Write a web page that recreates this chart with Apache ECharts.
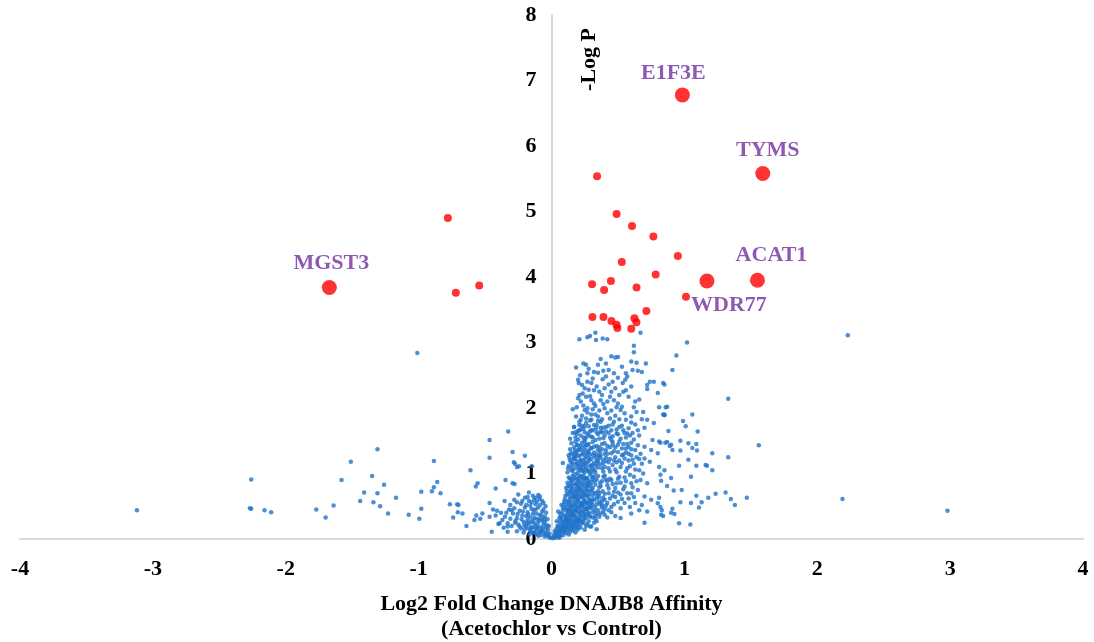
<!DOCTYPE html>
<html><head><meta charset="utf-8">
<script src="https://cdn.jsdelivr.net/npm/echarts@6/dist/echarts.min.js"></script>
<style>html,body{margin:0;padding:0;background:#fff}#c{width:1094px;height:642px}</style>
</head><body><div id="c"></div>
<script>
// ---------- DATA ----------
const xTicks = [-4,-3,-2,-1,0,1,2,3,4];
const yTicks = [0,1,2,3,4,5,6,7,8];
const xTitle = 'Log2 Fold Change DNAJB8 Affinity\n(Acetochlor vs Control)';
const yTitle = '-Log P';

const labeledNames = ['E1F3E','TYMS','ACAT1','WDR77','MGST3'];
const labeledX = [0.985, 1.59, 1.55, 1.17, -1.672];
const labeledY = [6.78, 5.58, 3.95, 3.94, 3.84];

const sigRed = [
[0.343,5.54],[0.49,4.96],[0.606,4.78],[0.767,4.62],[0.951,4.32],[0.529,4.23],[0.784,4.04],
[0.305,3.89],[0.447,3.94],[0.396,3.80],[0.64,3.84],[1.012,3.70],[0.714,3.48],
[0.308,3.39],[0.391,3.39],[0.451,3.33],[0.489,3.27],[0.496,3.22],[0.60,3.21],[0.624,3.37],[0.639,3.31],
[-0.78,4.90],[-0.72,3.76],[-0.544,3.87]
];

const blueScatter = [
[-3.12,0.44],[-2.26,0.91],[-2.27,0.47],[-2.26,0.46],[-2.16,0.44],[-2.11,0.41],[-1.77,0.45],[-1.70,0.33],[-1.64,0.51],[-1.58,0.90],[-1.51,1.18],[-1.44,0.58],[-1.41,0.71],[-1.35,0.96],[-1.31,1.37],[-1.31,0.70],[-1.34,0.56],[-1.29,0.50],[-1.26,0.83],[-1.23,0.39],[-1.17,0.63],
[-1.01,2.84],[-1.075,0.37],[-0.995,0.31],[-0.98,0.46],[-0.98,0.72],[-0.885,1.19],[-0.86,0.87],[-0.885,0.79],[-0.90,0.73],[-0.835,0.70],[-0.765,0.53],[-0.71,0.53],[-0.70,0.52],[-0.705,0.41],[-0.74,0.33],[-0.67,0.39],[-0.64,0.20],[-0.61,1.05],[-0.57,0.80],[-0.556,0.85],[-0.566,0.36],[-0.58,0.29],[-0.536,0.31],[-0.52,0.39],[-0.466,1.51],[-0.466,1.24],[-0.466,0.55],[-0.466,0.34],[-0.45,0.11],[-0.42,0.77],[-0.41,0.43],[-0.39,0.24],[-0.353,0.58],[-0.346,0.90],[-0.326,1.64],[-0.293,1.33],[-0.283,1.17],[-0.275,1.15],[-0.26,1.10],[-0.245,1.11],[-0.20,1.27],[-0.148,1.11],[-0.293,0.85],[-0.278,0.84],[-0.17,0.71],[-0.12,0.63],[-0.088,0.65],[-0.33,0.19],[-0.33,0.11],
[1.02,3.00],[0.94,2.80],[0.91,2.58],[0.85,2.36],[1.33,2.14],[0.86,2.01],[0.87,2.02],[0.84,1.90],[0.85,1.90],[1.06,1.90],[0.99,1.80],[1.01,1.72],[0.88,1.65],[1.10,1.64],[0.97,1.50],[0.82,1.47],[0.857,1.47],[0.87,1.48],[0.89,1.42],[1.03,1.46],[1.09,1.45],[1.06,1.39],[0.91,1.36],[0.97,1.35],[1.095,1.35],[1.56,1.43],[1.21,1.31],[1.33,1.25],[1.03,1.21],[0.96,1.12],[1.09,1.12],[1.16,1.13],[1.17,1.12],[1.21,1.05],[1.05,0.95],[0.90,0.93],[0.82,0.98],[0.825,0.89],[0.87,0.81],[0.92,0.74],[0.98,0.75],[1.09,0.66],[1.235,0.69],[1.31,0.71],[1.18,0.63],[1.35,0.61],[1.47,0.63],[1.38,0.52],[0.97,0.56],[1.05,0.55],[1.13,0.56],[1.11,0.48],[0.82,0.49],[0.83,0.44],[0.84,0.35],[0.91,0.46],[0.90,0.40],[0.925,0.38],[0.96,0.24],[1.045,0.22],[0.81,0.63],
[2.23,3.11],[2.19,0.61],[2.98,0.43]
];

const blueUpper = [
[0.21,3.05],[0.27,3.08],[0.29,3.10],[0.33,3.15],[0.335,3.04],[0.385,3.06],[0.42,3.05],[0.67,3.15],[0.62,2.95],[0.62,2.85],[0.185,2.62],[0.24,2.68],[0.26,2.66],[0.37,2.75],[0.45,2.79],[0.48,2.77],[0.50,2.78],[0.41,2.68],[0.35,2.66],[0.43,2.58],[0.47,2.53],[0.53,2.63],[0.60,2.71],[0.64,2.69],[0.61,2.58],[0.65,2.57],[0.68,2.55],[0.71,2.68],[0.56,2.53],[0.215,2.50],[0.27,2.53],[0.32,2.55],[0.35,2.54],[0.20,2.43],[0.205,2.38],[0.27,2.40],[0.30,2.38],[0.385,2.44],[0.41,2.48],[0.46,2.40],[0.57,2.48],[0.555,2.43],[0.536,2.38],[0.74,2.40],[0.77,2.40],[0.72,2.35],[0.84,2.38],[0.80,2.23],[0.72,2.29],[0.25,2.30],[0.235,2.22],[0.26,2.17],[0.32,2.27],[0.36,2.25],[0.40,2.30],[0.45,2.25],[0.48,2.30],[0.54,2.25],[0.56,2.27],[0.20,2.15],[0.22,2.10],[0.30,2.12],[0.32,2.07],[0.37,2.12],[0.42,2.10],[0.47,2.12],[0.50,2.07],[0.66,2.13],[0.16,1.98],[0.19,2.01],[0.25,1.97],[0.27,1.995],[0.31,1.98],[0.36,1.96],[0.40,1.995],[0.45,1.96],[0.49,2.01],[0.52,1.97],[0.62,2.01],[0.64,1.94],[0.81,2.01],[0.85,1.89],[0.69,1.94],[0.185,1.87],[0.22,1.82],[0.26,1.84],[0.30,1.82],[0.35,1.87],[0.37,1.79],[0.44,1.84],[0.47,1.79],[0.56,1.82],[0.60,1.78],[0.72,1.82],[0.77,1.77],[0.17,1.71],[0.21,1.66],[0.25,1.72],[0.30,1.66],[0.335,1.69],[0.37,1.64],[0.41,1.71],[0.45,1.66],[0.49,1.61],[0.54,1.66],[0.57,1.61],[0.65,1.66],
[0.76,1.51],[0.81,1.49],[0.90,1.44],[0.70,1.41],[0.75,1.36],[0.80,1.31],[0.70,1.23],[0.74,1.18],[0.81,1.10],[0.85,1.05],[0.62,0.95],[0.67,0.90],[0.60,0.70],[0.65,0.75],[0.70,0.65],[0.75,0.60],[0.80,0.545],[0.59,0.49],[0.66,0.44],[0.72,0.42],[0.52,0.32],[0.60,0.39],[0.70,0.25],[0.825,0.37],[0.48,0.35],[0.34,0.15],[0.29,0.19],[0.085,1.16],
[0.58,1.2],[0.62,1.15],[0.66,1.05],[0.6,0.85],[0.64,1.25],[0.69,1.0],[0.72,0.85],[0.55,0.8],[0.58,0.62],[0.63,0.55],[0.68,0.52],[0.56,1.32],[0.6,1.28],[0.66,1.22],[0.52,0.68],[0.5,0.92],[0.48,1.25],[0.54,1.45]
];

const blueDense = [
[0.01,0.01],[0.02,0.03],[0.03,0.02],[0.04,0.05],[0.05,0.03],[0.06,0.08],[0.07,0.05],[0.08,0.1],[0.03,0.07],[0.05,0.12],[0.09,0.06],[0.1,0.12],[0.11,0.09],[0.12,0.14],[0.07,0.13],[0.02,0.06],[0.04,0.1],[0.14,0.11],[0.13,0.07],[0.06,0.02],
[0.05,0.18],[0.07,0.22],[0.08,0.17],[0.09,0.26],[0.1,0.2],[0.11,0.28],[0.12,0.18],[0.13,0.24],[0.14,0.29],[0.15,0.16],[0.16,0.22],[0.17,0.27],[0.18,0.19],[0.19,0.25],[0.2,0.21],[0.21,0.29],[0.22,0.17],[0.24,0.24],[0.26,0.2],[0.28,0.27],[0.06,0.26],[0.1,0.16],[0.13,0.3],[0.15,0.21],[0.17,0.16],[0.2,0.28],[0.23,0.26],[0.3,0.19],[0.32,0.25],[0.11,0.23],
[0.07,0.33],[0.08,0.41],[0.09,0.36],[0.1,0.47],[0.11,0.32],[0.12,0.39],[0.13,0.45],[0.14,0.34],[0.15,0.42],[0.16,0.48],[0.17,0.37],[0.18,0.44],[0.19,0.31],[0.2,0.4],[0.21,0.47],[0.22,0.35],[0.23,0.43],[0.24,0.49],[0.25,0.38],[0.26,0.32],[0.27,0.45],[0.28,0.4],[0.29,0.34],[0.3,0.47],[0.31,0.41],[0.33,0.36],[0.35,0.44],[0.37,0.39],[0.4,0.46],[0.42,0.33],[0.12,0.31],[0.14,0.46],[0.16,0.4],[0.18,0.35],[0.2,0.49],[0.22,0.42],[0.24,0.33],[0.26,0.46],[0.15,0.36],[0.19,0.43],[0.11,0.44],[0.28,0.48],[0.33,0.31],[0.45,0.41],[0.38,0.48],
[0.09,0.52],[0.1,0.61],[0.11,0.56],[0.12,0.68],[0.13,0.53],[0.14,0.63],[0.15,0.72],[0.16,0.57],[0.17,0.66],[0.18,0.51],[0.19,0.74],[0.2,0.6],[0.21,0.69],[0.22,0.55],[0.23,0.64],[0.24,0.71],[0.25,0.58],[0.26,0.67],[0.27,0.52],[0.28,0.62],[0.29,0.73],[0.3,0.56],[0.31,0.66],[0.32,0.6],[0.33,0.7],[0.34,0.54],[0.36,0.64],[0.38,0.58],[0.4,0.69],[0.42,0.55],[0.44,0.62],[0.47,0.72],[0.5,0.57],[0.13,0.59],[0.15,0.51],[0.17,0.61],[0.19,0.56],[0.21,0.63],[0.23,0.51],[0.25,0.68],[0.27,0.74],[0.29,0.59],[0.16,0.69],[0.2,0.73],[0.24,0.53],[0.35,0.73],[0.14,0.74],[0.18,0.64],[0.26,0.56],[0.31,0.52],
[0.11,0.78],[0.12,0.86],[0.13,0.94],[0.14,0.8],[0.15,0.89],[0.16,0.97],[0.17,0.77],[0.18,0.84],[0.19,0.92],[0.2,0.79],[0.21,0.88],[0.22,0.96],[0.23,0.82],[0.24,0.9],[0.25,0.76],[0.26,0.85],[0.27,0.93],[0.28,0.81],[0.29,0.99],[0.3,0.87],[0.31,0.78],[0.32,0.95],[0.33,0.83],[0.34,0.91],[0.36,0.79],[0.38,0.88],[0.4,0.97],[0.42,0.82],[0.45,0.9],[0.48,0.78],[0.52,0.86],[0.14,0.92],[0.16,0.83],[0.18,0.99],[0.2,0.9],[0.22,0.77],[0.24,0.97],[0.26,0.92],[0.28,0.89],[0.3,0.76],[0.35,0.96],[0.15,0.77],[0.19,0.85],[0.23,0.93],[0.27,0.8],[0.55,0.94],
[0.12,1.02],[0.13,1.12],[0.14,1.2],[0.15,1.05],[0.16,1.15],[0.17,1.24],[0.18,1.08],[0.19,1.18],[0.2,1.01],[0.21,1.1],[0.22,1.21],[0.23,1.04],[0.24,1.14],[0.25,1.23],[0.26,1.07],[0.27,1.17],[0.28,1.03],[0.29,1.12],[0.3,1.22],[0.31,1.06],[0.32,1.16],[0.33,1.01],[0.34,1.2],[0.35,1.09],[0.37,1.14],[0.39,1.03],[0.41,1.19],[0.43,1.08],[0.46,1.13],[0.49,1.02],[0.53,1.16],[0.16,1.04],[0.18,1.22],[0.2,1.13],[0.22,1.06],[0.24,1.19],[0.26,1.11],[0.28,1.24],[0.3,1.09],[0.36,1.24],[0.15,1.17],[0.25,1.02],[0.4,1.1],[0.57,1.08],
[0.13,1.28],[0.14,1.37],[0.15,1.46],[0.16,1.3],[0.17,1.4],[0.18,1.49],[0.19,1.33],[0.2,1.43],[0.21,1.27],[0.22,1.36],[0.23,1.47],[0.24,1.31],[0.25,1.41],[0.26,1.26],[0.27,1.35],[0.28,1.45],[0.29,1.29],[0.3,1.39],[0.31,1.48],[0.32,1.32],[0.34,1.42],[0.36,1.27],[0.38,1.37],[0.4,1.46],[0.42,1.3],[0.44,1.4],[0.47,1.34],[0.5,1.44],[0.53,1.28],[0.56,1.38],[0.6,1.47],[0.17,1.26],[0.19,1.44],[0.21,1.38],[0.23,1.29],[0.25,1.49],[0.27,1.43],[0.33,1.25],[0.35,1.36],[0.46,1.48],[0.58,1.3],[0.63,1.36],
[0.14,1.53],[0.16,1.62],[0.17,1.71],[0.18,1.55],[0.2,1.65],[0.21,1.74],[0.22,1.58],[0.24,1.68],[0.25,1.52],[0.27,1.61],[0.28,1.72],[0.3,1.56],[0.31,1.66],[0.33,1.51],[0.35,1.6],[0.37,1.7],[0.39,1.54],[0.41,1.64],[0.43,1.73],[0.46,1.57],[0.49,1.67],[0.52,1.53],[0.55,1.62],[0.59,1.58],[0.62,1.52],[0.19,1.6],[0.23,1.73],[0.26,1.55],[0.29,1.64],[0.34,1.74],[0.38,1.63],[0.44,1.55],[0.51,1.71],
[-0.02,0.03],[-0.03,0.06],[-0.05,0.04],[-0.06,0.09],[-0.08,0.06],[-0.09,0.12],[-0.11,0.08],[-0.12,0.14],[-0.04,0.11],[-0.07,0.13],[-0.14,0.1],[-0.16,0.13],[-0.01,0.02],[-0.1,0.05],
[-0.04,0.17],[-0.06,0.22],[-0.08,0.18],[-0.1,0.25],[-0.12,0.2],[-0.14,0.28],[-0.15,0.17],[-0.17,0.23],[-0.19,0.19],[-0.21,0.26],[-0.23,0.16],[-0.25,0.22],[-0.27,0.28],[-0.3,0.2],[-0.33,0.24],[-0.07,0.28],[-0.11,0.16],[-0.13,0.24],[-0.18,0.29],[-0.2,0.15],[-0.24,0.19],[-0.36,0.17],[-0.05,0.26],
[-0.05,0.34],[-0.07,0.42],[-0.09,0.37],[-0.11,0.31],[-0.12,0.45],[-0.14,0.38],[-0.16,0.33],[-0.18,0.41],[-0.2,0.48],[-0.22,0.36],[-0.24,0.43],[-0.26,0.32],[-0.29,0.39],[-0.32,0.45],[-0.35,0.34],[-0.38,0.4],[-0.1,0.48],[-0.15,0.46],[-0.13,0.32],[-0.19,0.35],[-0.28,0.47],[-0.42,0.36],[-0.08,0.31],
[-0.06,0.55],[-0.09,0.61],[-0.12,0.53],[-0.14,0.66],[-0.17,0.58],[-0.2,0.63],[-0.23,0.54],[-0.25,0.68],[-0.28,0.6],[-0.31,0.52],[-0.15,0.56],[-0.1,0.67],[-0.19,0.52]
];

const blueCore = [
[0.035,0.15],[0.055,0.09],[0.075,0.18],[0.095,0.14],[0.115,0.19],[0.135,0.16],[0.155,0.26],[0.175,0.21],[0.195,0.14],[0.085,0.23],[0.105,0.29],[0.125,0.25],[0.165,0.3],[0.185,0.27],[0.215,0.23],[0.245,0.29],[0.065,0.14],[0.045,0.2],[0.025,0.12],[0.145,0.2],
[0.065,0.38],[0.085,0.46],[0.105,0.35],[0.125,0.42],[0.145,0.5],[0.165,0.35],[0.185,0.47],[0.205,0.33],[0.225,0.51],[0.245,0.4],[0.265,0.55],[0.285,0.36],[0.305,0.59],[0.325,0.43],[0.075,0.52],[0.095,0.57],[0.115,0.5],[0.135,0.56],[0.155,0.39],[0.175,0.53],[0.195,0.59],[0.215,0.38],[0.235,0.57],[0.255,0.45],[0.275,0.38],[0.295,0.5],[0.345,0.39],[0.365,0.53],[0.39,0.42],[0.13,0.37],[0.17,0.43],[0.21,0.54],[0.25,0.36],[0.29,0.55],
[0.105,0.66],[0.115,0.73],[0.125,0.81],[0.135,0.69],[0.145,0.85],[0.155,0.64],[0.165,0.9],[0.175,0.72],[0.185,0.68],[0.195,0.8],[0.205,0.95],[0.215,0.76],[0.225,0.66],[0.235,0.86],[0.245,0.62],[0.255,0.93],[0.265,0.74],[0.275,0.86],[0.285,0.68],[0.295,0.83],[0.305,0.95],[0.315,0.71],[0.325,0.88],[0.345,0.66],[0.365,0.86],[0.385,0.73],[0.41,0.91],[0.43,0.7],[0.46,0.84],[0.21,0.84],[0.17,0.94],[0.23,0.72],[0.27,0.66],[0.31,0.92],[0.19,0.66],[0.25,0.81],
[0.125,1.08],[0.135,1.24],[0.145,1.31],[0.155,1.1],[0.165,1.22],[0.175,1.35],[0.185,1.14],[0.195,1.27],[0.205,1.06],[0.215,1.19],[0.225,1.42],[0.235,1.1],[0.245,1.36],[0.255,1.16],[0.265,1.3],[0.275,1.05],[0.285,1.2],[0.295,1.38],[0.305,1.13],[0.315,1.28],[0.325,1.05],[0.345,1.15],[0.365,1.33],[0.385,1.21],[0.41,1.36],[0.44,1.22],[0.48,1.4],[0.51,1.2],[0.2,1.36],[0.24,1.05],[0.28,1.33],[0.32,1.41],[0.18,1.3],[0.22,1.14],[0.26,1.44],[0.3,1.02],[0.34,1.29],[0.38,1.08],
[-0.015,0.08],[-0.025,0.14],[-0.045,0.07],[-0.065,0.16],[-0.085,0.11],[-0.105,0.19],[-0.125,0.09],[-0.145,0.18],[-0.165,0.07],[-0.185,0.25],[-0.205,0.21],[-0.225,0.3],[-0.035,0.21],[-0.055,0.3],[-0.075,0.36],[-0.095,0.29],[-0.115,0.39],[-0.135,0.44],[-0.155,0.26],[-0.175,0.37],[-0.215,0.42],[-0.255,0.38],[-0.275,0.25],[-0.31,0.31],[-0.34,0.4],[-0.06,0.45],[-0.085,0.52],[-0.04,0.4],[-0.02,0.2],[-0.03,0.3]
];

const blueFill = [
[0.33,0.49],[0.36,0.57],[0.39,0.63],[0.41,0.51],[0.43,0.77],[0.44,0.92],[0.46,0.66],[0.47,0.53],[0.49,0.85],[0.5,0.71],[0.51,0.95],[0.53,0.61],[0.54,0.76],[0.56,0.88],[0.57,0.7],[0.59,0.98],[0.61,0.79],[0.37,0.81],[0.39,0.95],[0.42,0.88],[0.34,0.62],[0.36,0.7],[0.38,0.52],[0.4,0.6],[0.45,0.49],[0.48,0.64],[0.52,0.47],[0.55,0.55],[0.62,0.64],[0.64,0.88],
[0.33,1.12],[0.35,1.19],[0.37,1.27],[0.38,1.45],[0.39,1.16],[0.4,1.3],[0.42,1.42],[0.43,1.17],[0.44,1.03],[0.45,1.31],[0.46,1.44],[0.47,1.2],[0.48,1.06],[0.5,1.33],[0.51,1.49],[0.52,1.1],[0.53,1.38],[0.55,1.23],[0.56,1.03],[0.57,1.45],[0.59,1.11],[0.6,1.37],[0.61,1.21],[0.63,1.06],[0.65,1.43],[0.67,1.3],[0.68,1.15],[0.36,1.4],[0.41,1.24],[0.49,1.17],[0.54,1.29],[0.58,1.41],
[0.2,1.52],[0.22,1.67],[0.23,1.88],[0.24,1.55],[0.26,1.77],[0.27,1.93],[0.28,1.58],[0.29,1.81],[0.31,1.55],[0.32,1.74],[0.33,1.9],[0.34,1.63],[0.36,1.53],[0.38,1.83],[0.39,1.7],[0.4,1.58],[0.42,1.92],[0.43,1.62],[0.45,1.51],[0.46,1.75],[0.48,1.88],[0.5,1.6],[0.51,1.83],[0.53,1.73],[0.55,1.92],[0.56,1.55],[0.58,1.69],[0.6,1.87],[0.61,1.62],[0.63,1.75],[0.66,1.58],[0.68,1.83],[0.7,1.7],[0.18,1.63],[0.21,1.79],[0.25,1.63],[0.3,1.9],[0.35,1.8],
[0.21,2.2],[0.23,2.35],[0.24,2.04],[0.28,2.28],[0.29,2.18],[0.31,2.45],[0.33,2.03],[0.34,2.33],[0.38,2.2],[0.39,2.06],[0.43,2.36],[0.44,2.17],[0.5,2.46],[0.51,2.2],[0.53,2.02],[0.58,2.17],[0.6,2.33],[0.63,2.1],[0.28,2.6],[0.39,2.57],
[0.04,0.27],[0.06,0.32],[0.08,0.29],[0.16,0.13],[0.18,0.1],[0.2,0.17],[0.22,0.28],[0.25,0.14],[0.27,0.23],[0.31,0.33],[0.34,0.27],[0.36,0.34],[0.4,0.37],[0.43,0.44],[0.05,0.42],
[-0.045,0.5],[-0.07,0.58],[-0.11,0.57],[-0.13,0.6],[-0.16,0.51],[-0.18,0.64],[-0.22,0.58],[-0.26,0.56],[-0.3,0.44],[-0.37,0.29],[-0.4,0.23],[-0.44,0.45],[-0.21,0.1],[-0.26,0.12],[-0.17,0.16]
];

// ---------- CHART ----------
const FONT = '"Liberation Serif","Times New Roman",serif';
const GRID = {left:20, right:11, top:15, bottom:103};
const chart = echarts.init(document.getElementById('c'), null, {renderer:'canvas'});
const blueAll = blueScatter.concat(blueUpper, blueDense, blueCore, blueFill);
const labeledData = labeledNames.map((n,i)=>({name:n, value:[labeledX[i], labeledY[i]]}));
const labelPlacement = {
  'E1F3E': {position:'top', distance:3, offset:[-9,0]},
  'TYMS':  {position:'top', distance:5, offset:[5,0]},
  'ACAT1': {position:'top', distance:6, offset:[14,0]},
  'WDR77': {position:'bottom', distance:6, offset:[22,0]},
  'MGST3': {position:'top', distance:6, offset:[2,0]}
};
labeledData.forEach(d=>{ d.label = labelPlacement[d.name]; });
// y axis sits at x = 0: shift it inward by the pixel distance from grid left to x=0
const plotW = 1094 - GRID.left - GRID.right;
const yAxisShift = -plotW * (0 - xTicks[0]) / (xTicks[xTicks.length-1] - xTicks[0]);

chart.setOption({
  animation:false,
  backgroundColor:'#ffffff',
  grid:Object.assign({containLabel:false, outerBoundsMode:'none'}, GRID),
  xAxis:{
    type:'value', min:xTicks[0], max:xTicks[xTicks.length-1], interval:1,
    axisLine:{onZero:false, lineStyle:{color:'#d9d9d9', width:2}},
    axisTick:{show:false}, splitLine:{show:false},
    axisLabel:{color:'#000', fontFamily:FONT, fontWeight:'bold', fontSize:22, margin:19},
    name:xTitle, nameLocation:'middle', nameGap:53,
    nameTextStyle:{color:'#000', fontFamily:FONT, fontWeight:'bold', fontSize:22, lineHeight:25}
  },
  yAxis:{
    type:'value', min:yTicks[0], max:yTicks[yTicks.length-1], interval:1,
    offset:yAxisShift,
    axisLine:{onZero:false, lineStyle:{color:'#d9d9d9', width:2}},
    axisTick:{show:false}, splitLine:{show:false},
    axisLabel:{color:'#000', fontFamily:FONT, fontWeight:'bold', fontSize:22, margin:15}
  },
  graphic:[{
    type:'text', left:578, top:28, rotation:Math.PI/2,
    style:{text:yTitle, fill:'#000', font:'bold 22px '+FONT}
  }],
  series:[
    {type:'scatter', data:blueAll, symbolSize:4.5, itemStyle:{color:'#1f73c9'}, silent:true},
    {type:'scatter', data:sigRed, symbolSize:8, itemStyle:{color:'#ff0000'}, silent:true},
    {type:'scatter', data:labeledData, symbolSize:15, itemStyle:{color:'#ff0000'}, silent:true,
     label:{show:true, formatter:'{b}', color:'#7030a0', fontFamily:FONT, fontWeight:'bold', fontSize:22}}
  ]
});
</script></body></html>
